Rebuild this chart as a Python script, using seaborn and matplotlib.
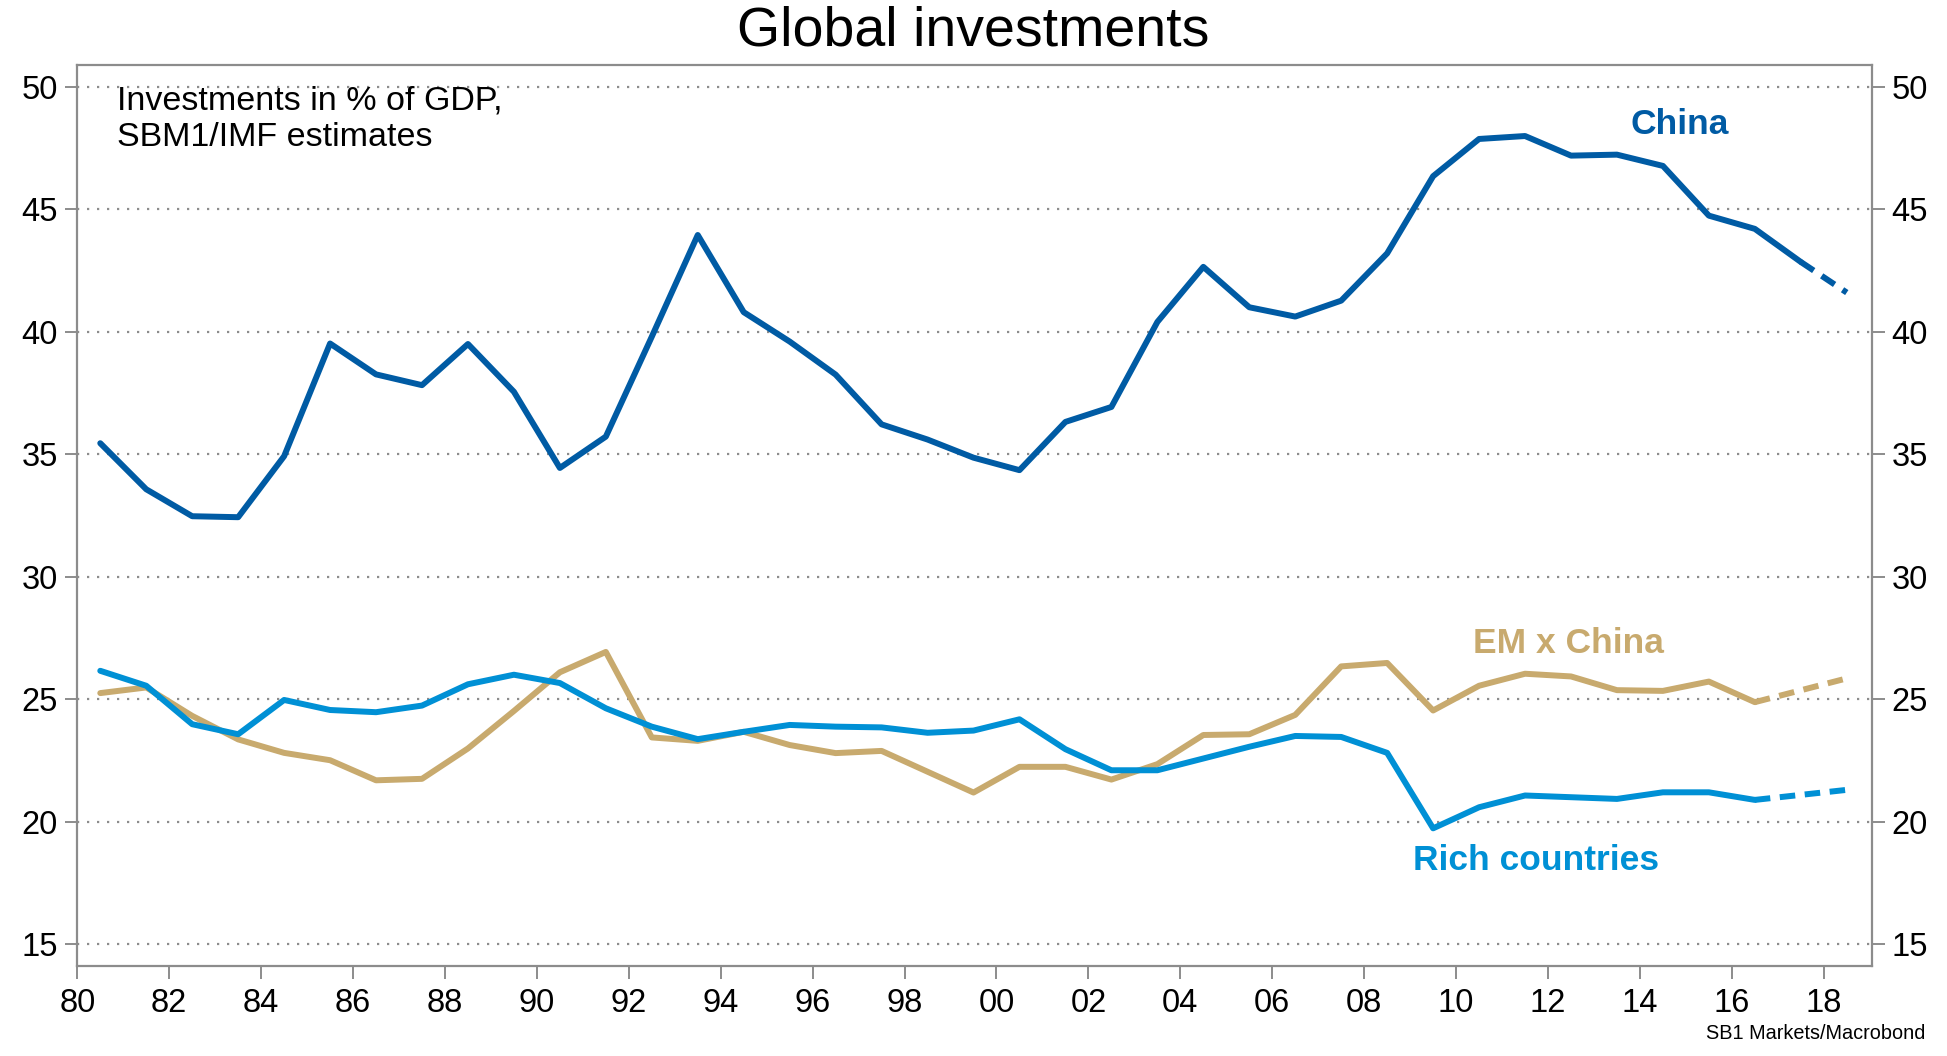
import numpy as np
import matplotlib
matplotlib.use("Agg")
import matplotlib.pyplot as plt
import seaborn as sns
from matplotlib.ticker import FuncFormatter, MultipleLocator

# Investments in % of GDP, annual observations plotted at mid-year
years = np.arange(1980.5, 2017.0, 1.0)        # 1980.5 .. 2016.5
china_years = np.arange(1980.5, 2018.0, 1.0)  # 1980.5 .. 2017.5

china = [35.45, 33.57, 32.47, 32.43, 34.92, 39.52, 38.26, 37.82, 39.5, 37.55,
         34.44, 35.72, 39.8, 43.95, 40.8, 39.6, 38.25, 36.22, 35.6, 34.86,
         34.35, 36.32, 36.93, 40.4, 42.65, 41.0, 40.62, 41.27, 43.2, 46.35,
         47.87, 47.99, 47.19, 47.23, 46.77, 44.74, 44.2, 42.85]
rich = [26.16, 25.55, 23.98, 23.57, 24.97, 24.56, 24.47, 24.74, 25.61, 26.0,
        25.66, 24.63, 23.88, 23.37, 23.67, 23.95, 23.88, 23.85, 23.63, 23.72,
        24.18, 22.96, 22.1, 22.1, 22.58, 23.06, 23.5, 23.46, 22.81, 19.73,
        20.59, 21.07, 21.0, 20.93, 21.2, 21.2, 20.89]
em_x_china = [25.25, 25.48, 24.32, 23.36, 22.81, 22.51, 21.69, 21.75, 22.99, 24.52,
              26.1, 26.93, 23.44, 23.3, 23.67, 23.13, 22.8, 22.89, 22.04, 21.19,
              22.24, 22.24, 21.72, 22.35, 23.54, 23.57, 24.36, 26.34, 26.48, 24.54,
              25.55, 26.04, 25.93, 25.37, 25.34, 25.72, 24.88]

# IMF estimates (dashed)
est_years = [2016.5, 2018.5]
china_est_years = [2017.5, 2018.5]
china_est = [42.85, 41.6]
rich_est = [20.89, 21.3]
em_est = [24.88, 25.85]

C_CHINA = "#005BA4"
C_RICH = "#0090D5"
C_EM = "#C8AA6E"
GREY = "#8C8C8C"

sns.set_style("white")
plt.rcParams["font.family"] = ["Liberation Sans Narrow", "Liberation Sans", "DejaVu Sans"]
plt.rcParams["text.color"] = "black"

fig = plt.figure(figsize=(19.47, 10.56), dpi=100)
ax = fig.add_axes([0.0397, 0.085, 0.9218, 0.853])

lw = 4.3
dash = (0, (2.6, 1.6))
sns.lineplot(x=years, y=em_x_china, ax=ax, color=C_EM, linewidth=lw)
sns.lineplot(x=years, y=rich, ax=ax, color=C_RICH, linewidth=lw)
sns.lineplot(x=china_years, y=china, ax=ax, color=C_CHINA, linewidth=lw)
sns.lineplot(x=est_years, y=em_est, ax=ax, color=C_EM, linewidth=lw, linestyle=dash)
sns.lineplot(x=est_years, y=rich_est, ax=ax, color=C_RICH, linewidth=lw, linestyle=dash)
sns.lineplot(x=china_est_years, y=china_est, ax=ax, color=C_CHINA, linewidth=lw, linestyle=dash)

ax.set_xlim(1980, 2019.05)
ax.set_ylim(14.1, 50.87)
ax.xaxis.set_major_locator(MultipleLocator(2))
ax.xaxis.set_major_formatter(FuncFormatter(lambda v, p: f"{int(round(v)) % 100:02d}"))
ax.yaxis.set_major_locator(MultipleLocator(5))

ax.grid(axis="y", color=GREY, linestyle=(0, (1, 3.5)), linewidth=1.6)
ax.grid(axis="x", visible=False)
ax.set_axisbelow(True)

for s in ax.spines.values():
    s.set_visible(True)
    s.set_color(GREY)
    s.set_linewidth(1.6)

ax.tick_params(axis="both", which="major", direction="out", length=9, width=1.4,
               color=GREY, labelsize=23.5, labelcolor="black", pad=5)
ax.tick_params(axis="y", left=True, right=True, labelleft=True, labelright=True)
ax.tick_params(axis="x", bottom=True, pad=7)
ax.set_xlabel("")
ax.set_ylabel("")

ax.text(0.0223, 0.978, "Investments in % of GDP,\nSBM1/IMF estimates",
        transform=ax.transAxes, ha="left", va="top", fontsize=24.5, linespacing=1.25,
        color="black")

ax.text(2014.87, 48.47, "China", color=C_CHINA, fontsize=25.5, fontweight="bold",
        ha="center", va="center")
ax.text(2012.44, 27.29, "EM x China", color=C_EM, fontsize=25.5, fontweight="bold",
        ha="center", va="center")
ax.text(2011.74, 18.43, "Rich countries", color=C_RICH, fontsize=25.5, fontweight="bold",
        ha="center", va="center")

fig.text(0.5, 1 - 46 / 1056, "Global investments", ha="center", va="baseline",
         fontsize=40, color="black")
fig.text(0.989, 0.012, "SB1 Markets/Macrobond", ha="right", va="bottom", fontsize=14.3,
         color="black")

fig.savefig("out.png", dpi=100)
